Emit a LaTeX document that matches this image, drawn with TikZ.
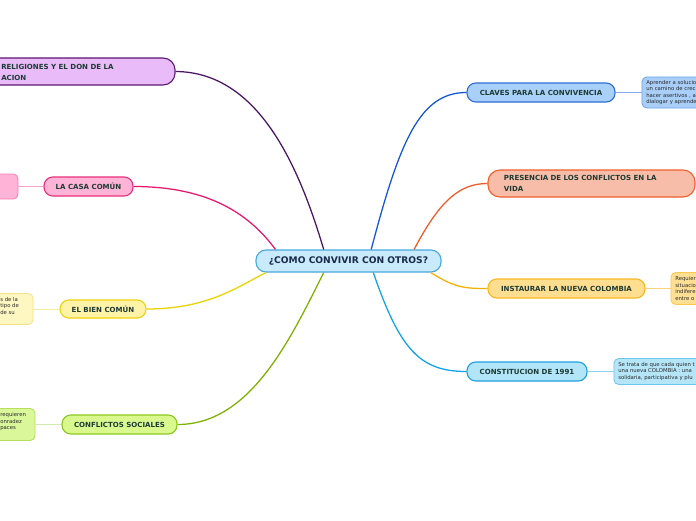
\documentclass[tikz,border=0pt]{standalone}
\usepackage{fontspec}
\setmainfont{DejaVu Sans}
\definecolor{cenfill}{HTML}{C8EAFB}
\definecolor{cendraw}{HTML}{4AA8DC}
\definecolor{centext}{HTML}{1B2A4A}
\definecolor{brtext}{HTML}{1D3B34}
\definecolor{notetext}{HTML}{2A2A2A}
% branch colours: fill, border, curve, note fill, note border
\definecolor{religfill}{HTML}{E9BBF8}\definecolor{religdraw}{HTML}{5B1A73}\definecolor{religline}{HTML}{4B1566}
\definecolor{casafill}{HTML}{FFB3D6}\definecolor{casadraw}{HTML}{E8307A}\definecolor{casaline}{HTML}{E8186E}
\definecolor{casanfill}{HTML}{FFB3D6}\definecolor{casandraw}{HTML}{F47FB0}\definecolor{casatie}{HTML}{F7A3C8}
\definecolor{bienfill}{HTML}{FFF3A8}\definecolor{biendraw}{HTML}{F0D20A}\definecolor{bienline}{HTML}{E8D200}
\definecolor{biennfill}{HTML}{FFF7C2}\definecolor{bienndraw}{HTML}{F5E38A}\definecolor{bientie}{HTML}{F8EC9A}
\definecolor{conflfill}{HTML}{D9F98F}\definecolor{confldraw}{HTML}{8BC81E}\definecolor{conflline}{HTML}{7DB200}
\definecolor{conflnfill}{HTML}{DAF79A}\definecolor{conflndraw}{HTML}{B5DE5A}\definecolor{confltie}{HTML}{D2ECB0}
\definecolor{clavesfill}{HTML}{A9D0F8}\definecolor{clavesdraw}{HTML}{2F6FD2}\definecolor{clavesline}{HTML}{1456D4}
\definecolor{clavesnfill}{HTML}{A9CFF8}\definecolor{clavesndraw}{HTML}{6FA3EA}\definecolor{clavestie}{HTML}{7FAEEA}
\definecolor{presenfill}{HTML}{F8BDA8}\definecolor{presendraw}{HTML}{F0602E}\definecolor{presenline}{HTML}{F05A28}
\definecolor{instaufill}{HTML}{FFDE90}\definecolor{instaudraw}{HTML}{F8B825}\definecolor{instauline}{HTML}{F8B000}
\definecolor{instaunfill}{HTML}{FFDF93}\definecolor{instaundraw}{HTML}{F8C850}\definecolor{instautie}{HTML}{F9D27A}
\definecolor{constifill}{HTML}{B2E5F8}\definecolor{constidraw}{HTML}{1EA2E2}\definecolor{constiline}{HTML}{12A2E8}
\definecolor{constinfill}{HTML}{B5E6F8}\definecolor{constindraw}{HTML}{6CC6EE}\definecolor{constitie}{HTML}{8AD2F2}
\tikzset{
  branch/.style={draw, line width=0.8pt, rounded corners=0.22cm, minimum height=0.475cm,
    font=\bfseries\fontsize{5}{7.8}\selectfont, text=brtext, inner sep=0pt},
  note/.style={draw, line width=0.6pt, rounded corners=0.12cm, inner sep=0pt},
  notetxt/.style={anchor=north west, align=left, font=\fontsize{3.8}{4.6}\selectfont,
    text=notetext, inner sep=0pt},
  link/.style={line width=0.9pt},
  tie/.style={line width=0.6pt},
}
\begin{document}
\begin{tikzpicture}[x=0.025cm, y=-0.025cm]
\useasboundingbox (0,0) rectangle (696,520);
\clip (0,0) rectangle (696,520);
\fill[white] (0,0) rectangle (696,520);

% centre
\node[draw=cendraw, fill=cenfill, line width=0.8pt, rounded corners=0.25cm, minimum width=4.625cm,
  minimum height=0.55cm, font=\bfseries\fontsize{6.5}{8}\selectfont, text=centext] (cen) at (348.5,261) {¿COMO CONVIVIR CON OTROS?};

% left branches
\node[branch, fill=religfill, draw=religdraw, minimum width=5.875cm, minimum height=0.675cm, rounded corners=0.3cm] (relig) at (57.5,71.5) {};
\node[anchor=west, align=left, font=\bfseries\fontsize{5}{7.8}\selectfont, text=brtext, inner sep=0pt] (religtxt) at (1,72) {RELIGIONES Y EL DON DE LA\\ACION};

\node[branch, fill=casafill, draw=casadraw, minimum width=2.225cm] (casa) at (88.5,186.5) {LA CASA COMÚN};
\node[note, fill=casanfill, draw=casandraw, minimum width=1.45cm, minimum height=0.625cm] (casanote) at (-11,186.5) {};

\node[branch, fill=bienfill, draw=biendraw, minimum width=2.15cm, minimum height=0.45cm] (bien) at (103,309) {EL BIEN COMÚN};
\node[note, fill=biennfill, draw=bienndraw, minimum width=1.575cm, minimum height=0.775cm] (biennote) at (1.5,309) {};
\node[notetxt] (bientxt) at (0,297) {s de la\\tipo de\\ de su};

\node[branch, fill=conflfill, draw=confldraw, minimum width=2.875cm] (confl) at (119.5,424.5) {CONFLICTOS SOCIALES};
\node[note, fill=conflnfill, draw=conflndraw, minimum width=1.625cm, minimum height=0.8cm] (conflnote) at (2.5,424.5) {};
\node[notetxt] (confltxt) at (0,412.5) {requieren\\onradez\\paces};

% right branches
\node[branch, fill=clavesfill, draw=clavesdraw, minimum width=3.7cm] (claves) at (541,92.5) {CLAVES PARA LA CONVIVENCIA};
\node[note, fill=clavesnfill, draw=clavesndraw, minimum width=2.95cm, minimum height=0.775cm] (clavesnote) at (701,92.5) {};
\node[notetxt] (clavestxt) at (646,80) {Aprender a solucio\\un camino de crec\\hacer asertivos , a\\dialogar y aprende};

\node[branch, fill=presenfill, draw=presendraw, minimum width=5.175cm, minimum height=0.675cm, rounded corners=0.3cm,
  text width=4.375cm, inner xsep=0.4cm, align=left] (presen) at (591.5,183.5) {PRESENCIA DE LOS CONFLICTOS EN LA\\VIDA};

\node[branch, fill=instaufill, draw=instaudraw, minimum width=3.925cm] (instau) at (566.5,288.5) {INSTAURAR LA NUEVA COLOMBIA};
\node[note, fill=instaunfill, draw=instaundraw, minimum width=1.725cm, minimum height=0.8cm] (instaunote) at (705.5,288.5) {};
\node[notetxt] (instautxt) at (675,276.5) {Requier\\situacio\\indifere\\entre o};

\node[branch, fill=constifill, draw=constidraw, minimum width=3.0cm] (consti) at (527,371.5) {CONSTITUCION DE 1991};
\node[note, fill=constinfill, draw=constindraw, minimum width=3.65cm, minimum height=0.65cm] (constinote) at (687,371.5) {};
\node[notetxt] (constitxt) at (618,362) {Se trata de que cada quien t\\una nueva COLOMBIA : una\\solidaria, participativa y plu};

% curves
\draw[link, religline] (relig.east) .. controls (260,72) and (300,170) .. (cen.155);
\draw[link, casaline] (casa.east) .. controls (210,186.5) and (250,215) .. (cen.171);
\draw[link, bienline] (bien.east) .. controls (210,309) and (240,285) .. (cen.188);
\draw[link, conflline] (confl.east) .. controls (250,424.5) and (290,340) .. (cen.205);
\draw[link, clavesline] (cen.27) .. controls (400,140) and (420,92.5) .. (claves.west);
\draw[link, presenline] (cen.10) .. controls (440,200) and (460,183.5) .. (presen.west);
\draw[link, instauline] (cen.-8) .. controls (455,288) and (465,288.5) .. (instau.west);
\draw[link, constiline] (cen.-25) .. controls (400,350) and (420,371.5) .. (consti.west);

% ties to notes
\draw[tie, casatie] (casanote.east) -- (casa.west);
\draw[tie, bientie] (biennote.east) -- (bien.west);
\draw[tie, confltie] (conflnote.east) -- (confl.west);
\draw[tie, clavestie] (claves.east) -- (clavesnote.west);
\draw[tie, instautie] (instau.east) -- (instaunote.west);
\draw[tie, constitie] (consti.east) -- (constinote.west);
\end{tikzpicture}
\end{document}
